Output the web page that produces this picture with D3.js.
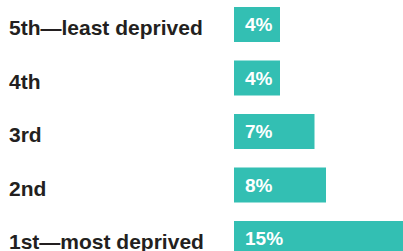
<!DOCTYPE html>
<html>
<head>
<meta charset="utf-8">
<script src="https://cdn.jsdelivr.net/npm/d3@7"></script>
<style>
  html, body { margin: 0; padding: 0; background: #fff; overflow: hidden; }
  svg { display: block; }
</style>
</head>
<body>
<svg id="chart"></svg>
<script>
const categories = ["5th\u2014least deprived", "4th", "3rd", "2nd", "1st\u2014most deprived"];
const values = [4, 4, 7, 8, 15];
const valueLabels = ["4%", "4%", "7%", "8%", "15%"];

const WIDTH = 403, HEIGHT = 251;
const BAR_LEFT = 234;
const STEP = 53.5, BAR_H = 35;
const FONT = "'Liberation Sans', Arial, Helvetica, sans-serif";

let svg = d3.select("#chart")
    .attr("width", WIDTH)
    .attr("height", HEIGHT);

// band scale for rows; last bar runs off the bottom edge like the original
let y = d3.scaleBand()
    .domain(categories)
    .range([7, 7 + STEP * categories.length - (STEP - BAR_H)])
    .paddingInner((STEP - BAR_H) / STEP)
    .paddingOuter(0);

// ~11.5px per percentage point
let x = d3.scaleLinear()
    .domain([0, 10])
    .range([0, 115]);

let rows = svg.selectAll("g.row")
    .data(categories)
    .enter()
    .append("g")
        .attr("class", "row")
        .attr("transform", d => "translate(0," + y(d) + ")");

rows.append("text")
    .attr("x", 9)
    .attr("y", 28)
    .style("font-family", FONT)
    .style("font-weight", "bold")
    .style("font-size", "21px")
    .style("fill", "#231f20")
    .text(d => d);

rows.append("rect")
    .attr("x", BAR_LEFT)
    .attr("y", 0)
    .attr("width", (d, i) => x(values[i]))
    .attr("height", y.bandwidth())
    .style("fill", "#33bfb3");

rows.append("text")
    .attr("x", BAR_LEFT + 11)
    .attr("y", 24)
    .style("font-family", FONT)
    .style("font-weight", "bold")
    .style("font-size", "19px")
    .style("fill", "#fff")
    .text((d, i) => valueLabels[i]);
</script>
</body>
</html>
